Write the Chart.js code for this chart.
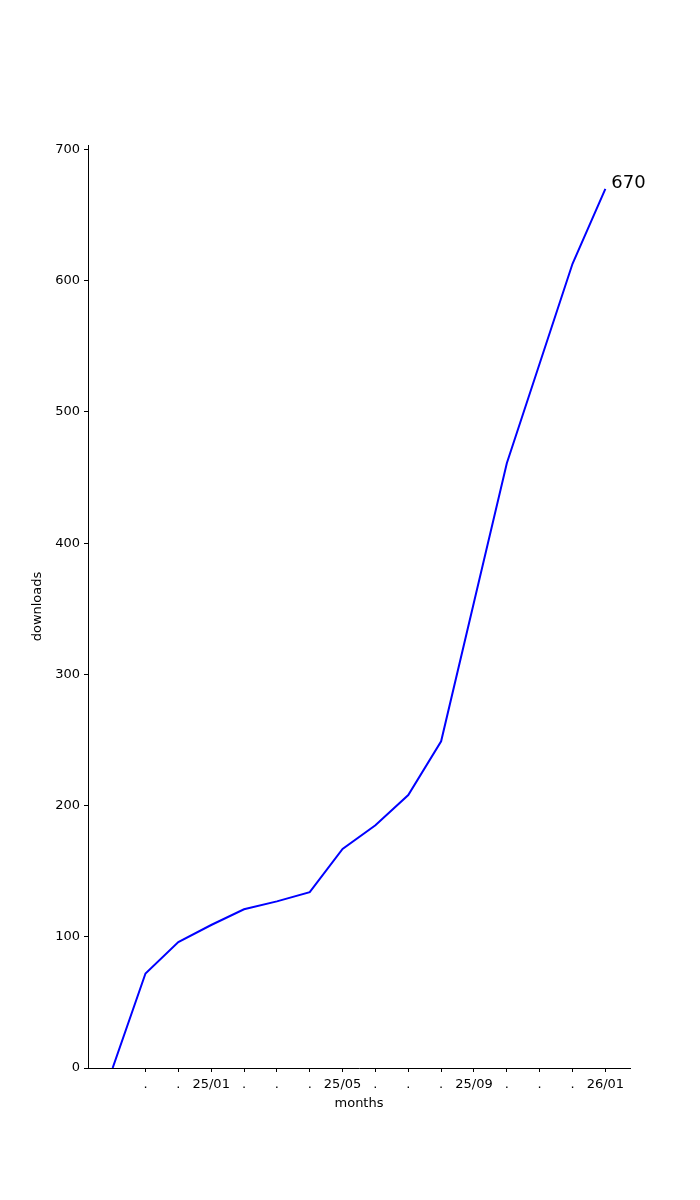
<!DOCTYPE html>
<html>
<head>
<meta charset="utf-8">
<script src="https://cdn.jsdelivr.net/npm/chart.js@4.4.0/dist/chart.umd.min.js"></script>
<style>
    html, body { margin: 0; padding: 0; background: #fff; }
    #wrap { width: 700px; height: 1200px; }
</style>
</head>
<body>
<div id="wrap"><canvas id="chart" width="700" height="1200"></canvas></div>
<script>
// Data
const months = ['24/10', '24/11', '24/12', '25/01', '25/02', '25/03', '25/04', '25/05',
                '25/06', '25/07', '25/08', '25/09', '25/10', '25/11', '25/12', '26/01'];
const downloads = [0, 72, 96, 109, 121, 127, 134, 167, 185, 208, 249, 355, 461, 537, 613, 670];
const tickLabels = ['.', '.', '25/01', '.', '.', '.', '25/05', '.', '.', '.', '25/09', '.', '.', '.', '26/01'];
const yTicks = [0, 100, 200, 300, 400, 500, 600, 700];

const FONT = 'DejaVu Sans';

// axis titles + last value label
const extras = {
    id: 'extras',
    afterDraw(chart) {
        const ctx = chart.ctx;
        const area = chart.chartArea;
        const meta = chart.getDatasetMeta(0);
        const last = meta.data[meta.data.length - 1];

        ctx.save();
        ctx.fillStyle = '#000';
        ctx.font = '13px "' + FONT + '"';
        ctx.textAlign = 'center';
        ctx.textBaseline = 'middle';
        ctx.fillText('months', (area.left + area.right) / 2, 1104);

        ctx.translate(38, (area.top + area.bottom) / 2);
        ctx.rotate(-Math.PI / 2);
        ctx.fillText('downloads', 0, 0);
        ctx.restore();

        ctx.save();
        ctx.fillStyle = '#000';
        ctx.font = '18px "' + FONT + '"';
        ctx.textAlign = 'left';
        ctx.textBaseline = 'middle';
        ctx.fillText(String(downloads[downloads.length - 1]), last.x + 6, last.y - 6);
        ctx.restore();
    }
};

new Chart(document.getElementById('chart'), {
    type: 'line',
    data: {
        datasets: [{
            data: downloads.map((v, i) => ({ x: i, y: v })),
            borderColor: '#0000ff',
            borderWidth: 2,
            pointRadius: 0,
            tension: 0,
            fill: false
        }]
    },
    options: {
        responsive: false,
        animation: false,
        layout: { padding: { left: 0, top: 145, right: 70, bottom: 0 } },
        plugins: { legend: { display: false }, tooltip: { enabled: false } },
        scales: {
            x: {
                type: 'linear',
                min: -0.75,
                max: 15.75,
                afterFit(s) { s.height = 132; },
                afterBuildTicks(s) { s.ticks = tickLabels.map((_, i) => ({ value: i + 1 })); },
                ticks: {
                    autoSkip: false,
                    maxRotation: 0,
                    padding: 5,
                    color: '#000',
                    font: { family: FONT, size: 13 },
                    callback: (v) => tickLabels[v - 1]
                },
                grid: { drawOnChartArea: false, drawTicks: true, tickLength: 4, tickWidth: 1, color: '#000' },
                border: { display: true, color: '#000', width: 1 }
            },
            y: {
                min: 0,
                max: 703.5,
                afterFit(s) { s.width = 88; },
                afterBuildTicks(s) { s.ticks = yTicks.map(v => ({ value: v })); },
                ticks: {
                    padding: 4,
                    color: '#000',
                    font: { family: FONT, size: 13 }
                },
                grid: { drawOnChartArea: false, drawTicks: true, tickLength: 4, tickWidth: 1, color: '#000' },
                border: { display: true, color: '#000', width: 1 }
            }
        }
    },
    plugins: [extras]
});
</script>
</body>
</html>
